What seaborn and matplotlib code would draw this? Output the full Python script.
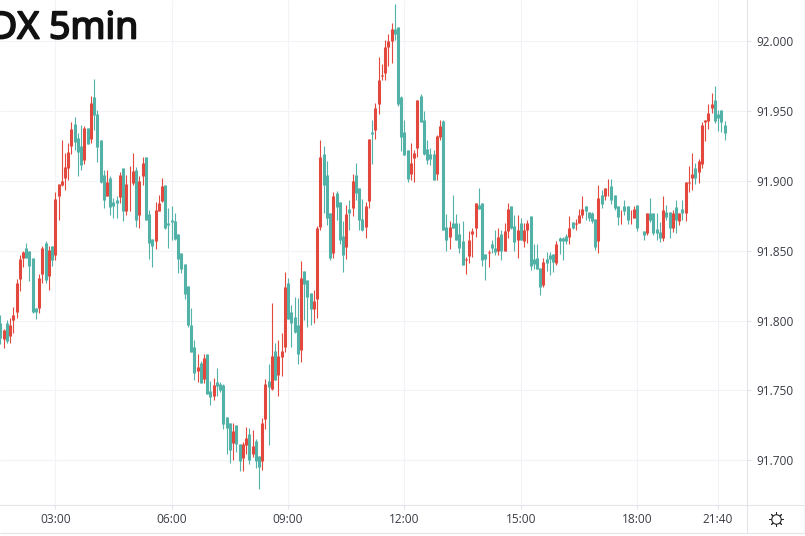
import numpy as np
import pandas as pd
import matplotlib
matplotlib.use("Agg")
import matplotlib.pyplot as plt
import matplotlib.patheffects as pe
from matplotlib.lines import Line2D
import seaborn as sns

# 5 minute candles
opens = [91.7986,91.7872,91.7986,91.7891,91.8005,91.8062,91.8296,91.8448,91.8517,91.8496,91.8446,91.8089,91.8089,91.8331,91.8553,
91.8317,91.8538,91.8469,91.8891,91.8974,91.9024,91.9095,91.9248,91.9409,91.9309,91.9252,91.9152,91.9381,91.9302,91.9602,
91.9481,91.9295,91.9045,91.8895,91.9024,91.8853,91.8867,91.8888,91.9095,91.8788,91.8970,91.8986,91.9081,91.8760,91.9038,
91.9174,91.8767,91.8588,91.8567,91.8788,91.8860,91.8974,91.8700,91.8724,91.8717,91.8624,91.8488,91.8403,91.8246,91.7967,
91.7810,91.7639,91.7696,91.7582,91.7760,91.7496,91.7460,91.7560,91.7546,91.7539,91.7310,91.7268,91.7125,91.7253,91.7118,
91.7018,91.7111,91.7189,91.7046,91.7139,91.7032,91.6996,91.7296,91.7568,91.7510,91.7782,91.7610,91.7739,91.7810,91.8267,
91.8060,91.8024,91.7967,91.7789,91.8353,91.8289,91.8196,91.8082,91.8153,91.8674,91.9195,91.9045,91.8772,91.8481,91.8917,
91.8853,91.8603,91.8531,91.8803,91.8810,91.9045,91.8953,91.8731,91.8674,91.8860,91.9353,91.9367,91.9552,91.9752,91.9774,
91.9959,92.0002,92.0088,92.0102,91.9602,91.9353,91.9224,91.9053,91.9167,91.9238,91.9610,91.9438,91.9231,91.9195,91.9195,
91.9053,91.9317,91.9431,91.8674,91.8596,91.8696,91.8696,91.8624,91.8567,91.8431,91.8460,91.8617,91.8660,91.8831,91.8846,
91.8474,91.8481,91.8546,91.8517,91.8496,91.8624,91.8496,91.8639,91.8824,91.8681,91.8581,91.8696,91.8567,91.8646,91.8746,
91.8439,91.8446,91.8374,91.8253,91.8439,91.8467,91.8474,91.8410,91.8589,91.8593,91.8603,91.8596,91.8703,91.8693,91.8696,
91.8760,91.8824,91.8781,91.8774,91.8731,91.8567,91.8902,91.8895,91.8962,91.8967,91.8902,91.8824,91.8790,91.8824,91.8824,
91.8762,91.8738,91.8831,91.8583,91.8645,91.8631,91.8774,91.8774,91.8653,91.8638,91.8595,91.8781,91.8781,91.8660,91.8817,
91.8717,91.8803,91.8774,91.8988,91.9024,91.9095,91.9067,91.9124,91.9419,91.9431,91.9524,91.9581,91.9481,91.9509,91.9402]

closes = [91.7879,91.7934,91.7855,91.7972,91.8043,91.8267,91.8438,91.8491,91.8448,91.8391,91.8062,91.8062,91.8303,91.8517,91.8291,
91.8503,91.8434,91.8874,91.8981,91.9002,91.9102,91.9210,91.9374,91.9276,91.9205,91.9117,91.9381,91.9267,91.9559,91.9474,
91.9245,91.8995,91.8867,91.8995,91.8817,91.8824,91.8843,91.9045,91.8788,91.8981,91.8974,91.9074,91.8719,91.9002,91.9131,
91.8724,91.8553,91.8538,91.8795,91.8845,91.8967,91.8665,91.8688,91.8710,91.8588,91.8438,91.8367,91.8188,91.7967,91.7775,
91.7625,91.7667,91.7553,91.7732,91.7475,91.7453,91.7539,91.7532,91.7503,91.7260,91.7232,91.7075,91.7211,91.7118,91.6996,
91.7118,91.7161,91.7003,91.7103,91.6996,91.6953,91.7268,91.7546,91.7525,91.7746,91.7575,91.7746,91.7782,91.8239,91.8010,
91.7982,91.7917,91.7760,91.8303,91.8260,91.8167,91.8082,91.8139,91.8667,91.9174,91.8974,91.8738,91.8446,91.8896,91.8817,
91.8581,91.8467,91.8767,91.8774,91.9003,91.8917,91.8724,91.8646,91.8824,91.9303,91.9338,91.9524,91.9724,91.9760,91.9959,
92.0002,92.0088,92.0052,91.9552,91.9317,91.9188,91.9017,91.9131,91.9203,91.9581,91.9424,91.9195,91.9153,91.9157,91.9010,
91.9324,91.9395,91.8646,91.8581,91.8674,91.8667,91.8581,91.8517,91.8396,91.8439,91.8574,91.8639,91.8846,91.8796,91.8434,
91.8439,91.8493,91.8517,91.8489,91.8596,91.8496,91.8639,91.8796,91.8660,91.8560,91.8646,91.8581,91.8646,91.8696,91.8389,
91.8403,91.8367,91.8239,91.8417,91.8410,91.8439,91.8417,91.8546,91.8567,91.8567,91.8567,91.8667,91.8660,91.8698,91.8753,
91.8796,91.8788,91.8738,91.8717,91.8531,91.8881,91.8838,91.8952,91.8967,91.8867,91.8810,91.8745,91.8795,91.8788,91.8724,
91.8767,91.8800,91.8667,91.8588,91.8610,91.8774,91.8724,91.8631,91.8631,91.8595,91.8795,91.8745,91.8660,91.8774,91.8724,
91.8774,91.8774,91.8995,91.8995,91.9052,91.9024,91.9145,91.9402,91.9438,91.9488,91.9552,91.9431,91.9452,91.9424,91.9345]

highs = [91.8039,91.7943,91.8005,91.8022,91.8096,91.8300,91.8467,91.8498,91.8553,91.8496,91.8446,91.8089,91.8331,91.8534,91.8567,
91.8534,91.8538,91.8924,91.8981,91.9295,91.9200,91.9271,91.9424,91.9459,91.9343,91.9402,91.9395,91.9381,91.9609,91.9731,
91.9505,91.9295,91.9081,91.9081,91.9038,91.8881,91.8895,91.9062,91.9095,91.9043,91.9110,91.9200,91.9100,91.9033,91.9171,
91.9174,91.8795,91.8588,91.8853,91.8902,91.9024,91.8974,91.8805,91.8819,91.8772,91.8624,91.8488,91.8403,91.8246,91.8089,
91.7860,91.7760,91.7710,91.7760,91.7760,91.7568,91.7589,91.7660,91.7560,91.7546,91.7310,91.7268,91.7268,91.7253,91.7118,
91.7132,91.7239,91.7232,91.7218,91.7153,91.7032,91.7303,91.7582,91.7689,91.8124,91.7839,91.7860,91.7910,91.8346,91.8303,
91.8110,91.8167,91.8160,91.8424,91.8353,91.8289,91.8196,91.8217,91.8681,91.9295,91.9253,91.9145,91.8772,91.8924,91.8931,
91.8853,91.8717,91.8831,91.8867,91.9053,91.9131,91.8953,91.8874,91.8853,91.9303,91.9438,91.9560,91.9888,91.9838,92.0009,
92.0052,92.0131,92.0266,92.0102,91.9610,91.9438,91.9224,91.9274,91.9224,91.9581,91.9624,91.9502,91.9295,91.9238,91.9224,
91.9331,91.9438,91.9438,91.8767,91.8717,91.8903,91.8767,91.8696,91.8717,91.8453,91.8639,91.8667,91.8846,91.8953,91.8846,
91.8474,91.8503,91.8574,91.8646,91.8667,91.8646,91.8696,91.8846,91.8824,91.8760,91.8753,91.8738,91.8696,91.8724,91.8746,
91.8546,91.8546,91.8374,91.8446,91.8489,91.8489,91.8474,91.8567,91.8596,91.8596,91.8624,91.8746,91.8703,91.8731,91.8803,
91.8896,91.8824,91.8781,91.8781,91.8731,91.8974,91.8938,91.8952,91.9017,91.9017,91.8902,91.8824,91.8795,91.8867,91.8824,
91.8795,91.8824,91.8831,91.8588,91.8645,91.8774,91.8881,91.8774,91.8774,91.8710,91.8895,91.8831,91.8781,91.8795,91.8867,
91.8774,91.8867,91.8995,91.9110,91.9202,91.9131,91.9160,91.9424,91.9438,91.9552,91.9631,91.9681,91.9509,91.9509,91.9431]

lows = [91.7831,91.7805,91.7839,91.7839,91.7915,91.8022,91.8212,91.8386,91.8448,91.8281,91.8053,91.8015,91.8058,91.8272,91.8272,
91.8219,91.8391,91.8434,91.8719,91.8962,91.8938,91.9010,91.9195,91.9224,91.9038,91.9081,91.9124,91.9267,91.9271,91.9367,
91.9138,91.8986,91.8810,91.8895,91.8760,91.8738,91.8738,91.8843,91.8717,91.8753,91.8783,91.8974,91.8672,91.8662,91.8974,
91.8719,91.8438,91.8381,91.8510,91.8788,91.8853,91.8657,91.8517,91.8581,91.8581,91.8338,91.8338,91.8153,91.7953,91.7775,
91.7575,91.7560,91.7553,91.7553,91.7475,91.7396,91.7432,91.7463,91.7487,91.7225,91.7046,91.6982,91.7003,91.7058,91.6925,
91.6925,91.7046,91.6975,91.7022,91.6946,91.6796,91.6932,91.7225,91.7111,91.7503,91.7575,91.7460,91.7606,91.7775,91.8010,
91.7810,91.7910,91.7689,91.7703,91.8003,91.7953,91.7967,91.7982,91.8017,91.8646,91.8772,91.8688,91.8431,91.8446,91.8724,
91.8546,91.8346,91.8439,91.8646,91.8746,91.8867,91.8646,91.8639,91.8589,91.8810,91.9124,91.9303,91.9481,91.9724,91.9724,
91.9824,91.9845,92.0009,91.9538,91.9217,91.9188,91.8996,91.9010,91.8996,91.9174,91.9424,91.9188,91.9124,91.9117,91.9010,
91.9010,91.9295,91.8646,91.8496,91.8510,91.8667,91.8581,91.8481,91.8396,91.8331,91.8410,91.8453,91.8596,91.8796,91.8389,
91.8289,91.8381,91.8481,91.8467,91.8467,91.8434,91.8496,91.8589,91.8653,91.8496,91.8446,91.8581,91.8531,91.8553,91.8360,
91.8367,91.8367,91.8182,91.8239,91.8353,91.8324,91.8346,91.8396,91.8474,91.8431,91.8546,91.8546,91.8653,91.8646,91.8696,
91.8738,91.8724,91.8717,91.8696,91.8503,91.8481,91.8810,91.8867,91.8895,91.8838,91.8795,91.8688,91.8695,91.8760,91.8695,
91.8695,91.8736,91.8645,91.8583,91.8581,91.8610,91.8710,91.8610,91.8581,91.8560,91.8567,91.8724,91.8595,91.8638,91.8631,
91.8688,91.8724,91.8717,91.8924,91.8938,91.8981,91.8988,91.9095,91.9288,91.9374,91.9488,91.9417,91.9359,91.9352,91.9295]

price_ticks = [91.70, 91.75, 91.80, 91.85, 91.90, 91.95, 92.00]
time_ticks = [17, 53, 89, 125, 161, 197, 222]
time_labels = ["03:00", "06:00", "09:00", "12:00", "15:00", "18:00", "21:40"]
title = "DX 5min"

red = "#e2483d"
teal = "#52b2a8"
grid_col = "#f1f3f7"
line_col = "#e2e4ea"
text_col = "#3a3d45"

sns.set_style("white", {"lines.solid_capstyle": "butt"})
plt.rcParams["font.family"] = ["Open Sans", "DejaVu Sans"]

idx = np.arange(len(opens))
o = np.array(opens)
c = np.array(closes)
direction = np.where(c >= o, "up", "down")

# long tables, two rows per candle, one for the wick and one for the body
wicks = pd.DataFrame({
    "idx": np.tile(idx, 2),
    "price": np.concatenate([highs, lows]),
    "dir": np.tile(direction, 2),
})
bodies = pd.DataFrame({
    "idx": np.tile(idx, 2),
    "price": np.concatenate([o, c]),
    "dir": np.tile(direction, 2),
})
colors = {"up": red, "down": teal}

fig = plt.figure(figsize=(8.05, 5.36), dpi=100)
ax = fig.add_axes([0, (536 - 505.3) / 536, 746.5 / 805, 505.3 / 536])

sns.lineplot(data=wicks, x="idx", y="price", hue="dir", units="idx", estimator=None,
             palette=colors, linewidth=0.8, legend=False, sort=False, ax=ax, zorder=3)
sns.lineplot(data=bodies, x="idx", y="price", hue="dir", units="idx", estimator=None,
             palette=colors, linewidth=2.2, legend=False, sort=False, ax=ax, zorder=4)

ax.set_xlim(-0.105, 230.8)
ax.set_ylim(91.6678, 92.0296)
ax.set_xlabel("")
ax.set_ylabel("")

ax.set_xticks(time_ticks)
ax.set_xticklabels(time_labels)
ax.yaxis.tick_right()
ax.set_yticks(price_ticks)
ax.set_yticklabels(["%.3f" % p for p in price_ticks])
ax.tick_params(axis="both", length=3.0, width=0.8, color=line_col, labelcolor=text_col,
               labelsize=8.6, bottom=True, right=True, left=False)
ax.tick_params(axis="x", pad=2.2)
ax.tick_params(axis="y", pad=4)
ax.grid(True, color=grid_col, linewidth=0.8)
ax.set_axisbelow(True)

for side in ["top", "left"]:
    ax.spines[side].set_visible(False)
for side in ["right", "bottom"]:
    ax.spines[side].set_color(line_col)
    ax.spines[side].set_linewidth(0.8)

# lines of the price and time scales outside the plot area
W, H = 805, 536
fig.add_artist(Line2D([746.5 / W, 1], [1 - 505.3 / H] * 2, color=line_col, lw=0.8))
fig.add_artist(Line2D([0, 1], [1 - 533 / H] * 2, color=line_col, lw=0.8))
fig.add_artist(Line2D([746.5 / W] * 2, [1 - 533 / H, 1 - 505.3 / H], color=line_col, lw=0.8))
fig.add_artist(Line2D([803.5 / W] * 2, [1 - 533 / H, 1], color=grid_col, lw=1.0))

# title, the regular cut thickened with a stroke
fig.text(138 / W, 1 - 38.5 / H, title, ha="right", va="baseline", fontsize=27,
         color="#111111", family=["Noto Sans", "DejaVu Sans"],
         path_effects=[pe.withStroke(linewidth=1.3, foreground="#111111")])

# settings icon
sun_x, sun_y = [775.5 / W], [1 - 518.5 / H]
fig.add_artist(Line2D(sun_x, sun_y, marker=(8, 2, 0), markersize=10.5, markeredgewidth=0.7,
                      markeredgecolor="#222222", linestyle="none"))
fig.add_artist(Line2D(sun_x, sun_y, marker="o", markersize=6.8, markeredgewidth=0.8,
                      markeredgecolor="#222222", markerfacecolor="white", linestyle="none"))

fig.savefig("out.png", dpi=100)
